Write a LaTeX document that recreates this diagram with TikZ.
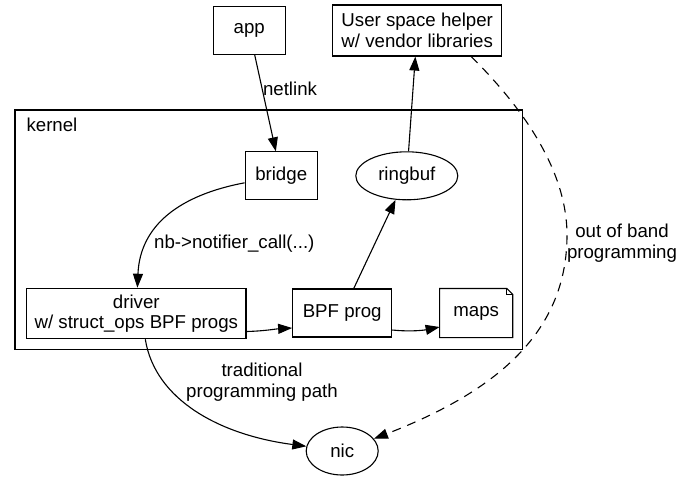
\documentclass[tikz,border=0pt]{standalone}
\usepackage{fontspec}
\setmainfont{Liberation Sans}
\usetikzlibrary{arrows.meta, shapes.geometric}

\begin{document}
\begin{tikzpicture}[x=1pt, y=-1pt, line width=1.1pt,
    font=\fontsize{18.67}{20.5}\selectfont,
    >={Triangle[length=14pt,width=10pt]},
    box/.style={draw, rectangle, inner sep=0pt, minimum width=72pt, minimum height=48pt, align=center},
    oval/.style={draw, ellipse, inner sep=0pt, minimum width=72pt, minimum height=48pt},
    lbl/.style={inner sep=0pt, align=center}]
    \fill[white] (0,0) rectangle (680,480);
    \useasboundingbox (0,0) rectangle (680,480);

    % kernel cluster
    \node[draw, rectangle, minimum width=507.3pt, minimum height=239.3pt] (kernel) at (268.65,229.65) {};
    \node[lbl, anchor=west] (kernellbl) at (26,125) {kernel};

    \node[box] (app) at (249.3,30.2) {app};
    \node[box, minimum width=169pt, minimum height=51pt] (helper) at (417.2,30.5) {User space helper\\w/ vendor libraries};
    \node[box] (bridge) at (281.2,175.9) {bridge};
    \node[oval, minimum width=102pt] (ringbuf) at (406.8,175.8) {ringbuf};
    \node[box, minimum width=219.3pt, minimum height=50.4pt] (driver) at (136.3,313.5) {driver\\w/ struct\_ops BPF progs};
    \node[box, minimum width=99pt] (bpf) at (342.2,313) {BPF prog};
    \node[inner sep=0pt, minimum width=72pt, minimum height=48pt] (maps) at (476.2,313) {maps};
    \node[oval] (nic) at (342.2,451) {nic};

    % note outline
    \draw (maps.north west) -- ([xshift=-6pt]maps.north east) -- ([yshift=-6pt]maps.north east)
        -- (maps.south east) -- (maps.south west) -- cycle;
    \draw ([xshift=-6pt]maps.north east) |- ([yshift=-6pt]maps.north east);

    % edge labels
    \node[lbl] (netlinklbl) at (290,89) {netlink};
    \node[lbl] (notifylbl) at (234.3,244) {nb->notifier\_call(...)};
    \node[lbl] (tradlbl) at (262,382) {traditional\\programming path};
    \node[lbl] (ooblbl) at (622,243) {out of band\\programming};

    \draw[->] (app) -- (bridge);
    \draw[->] (bridge) .. controls (180,195) and (140,225) .. (driver);
    \draw[->] ([yshift=-18pt]driver.east) .. controls (265,331) and (275,329) .. ([yshift=-15pt]bpf.west);
    \draw[->] ([yshift=-17pt]bpf.east) .. controls (412,332) and (425,330) .. ([yshift=-14pt]maps.west);
    \draw[->] (bpf) -- (ringbuf);
    \draw[->] (ringbuf) -- (helper);
    \draw[->] ([xshift=9pt]driver.south) .. controls (155,400) and (220,435) .. (nic);
    \draw[->, dash pattern=on 9pt off 7pt] ([xshift=54pt]helper.south) .. controls (515,100) and (567,165) .. (567,235)
        .. controls (567,330) and (500,390) .. (nic);
\end{tikzpicture}
\end{document}
